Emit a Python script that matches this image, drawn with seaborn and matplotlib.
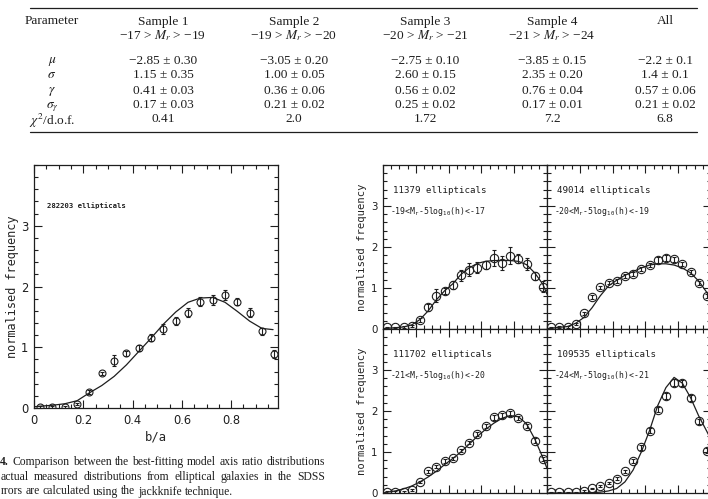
import matplotlib
matplotlib.use("Agg")
import matplotlib.pyplot as plt
import seaborn as sns
from matplotlib.ticker import MultipleLocator
from matplotlib.lines import Line2D

# ---------------- data ----------------
bin_centres = [0.025, 0.075, 0.125, 0.175, 0.225, 0.275, 0.325, 0.375, 0.425, 0.475,
               0.525, 0.575, 0.625, 0.675, 0.725, 0.775, 0.825, 0.875, 0.925, 0.975]

# all ellipticals (left panel)
all_freq = [0.01, 0.02, 0.02, 0.07, 0.26, 0.57, 0.78, 0.90, 0.99, 1.16,
            1.30, 1.43, 1.57, 1.75, 1.78, 1.86, 1.75, 1.57, 1.26, 0.89]
all_err = [0.02, 0.02, 0.02, 0.02, 0.03, 0.03, 0.09, 0.04, 0.05, 0.05,
           0.08, 0.06, 0.07, 0.07, 0.08, 0.08, 0.06, 0.07, 0.06, 0.07]
model_x_all = [0.0, 0.025, 0.075, 0.125, 0.175, 0.225, 0.275, 0.325, 0.375, 0.425, 0.475,
               0.525, 0.575, 0.625, 0.675, 0.725, 0.775, 0.825, 0.875, 0.925, 0.97]
model_all = [0.02, 0.03, 0.045, 0.07, 0.12, 0.25, 0.37, 0.52, 0.71, 0.93, 1.15,
             1.38, 1.58, 1.74, 1.81, 1.82, 1.74, 1.59, 1.43, 1.31, 1.29]

model_x = [0.0, 0.025, 0.075, 0.125, 0.175, 0.225, 0.275, 0.325, 0.375, 0.425, 0.475,
           0.525, 0.575, 0.625, 0.675, 0.725, 0.775, 0.825, 0.875, 0.925, 0.975, 1.0]

# sample 1: -19 < M < -17
s1_freq = [0.04, 0.04, 0.05, 0.07, 0.23, 0.53, 0.81, 0.93, 1.07, 1.31,
           1.45, 1.50, 1.56, 1.73, 1.61, 1.79, 1.71, 1.59, 1.30, 1.03]
s1_err = [0.02, 0.02, 0.02, 0.03, 0.05, 0.08, 0.16, 0.08, 0.10, 0.14,
          0.16, 0.13, 0.09, 0.20, 0.17, 0.20, 0.11, 0.14, 0.10, 0.13]
s1_model = [0.01, 0.02, 0.03, 0.05, 0.10, 0.23, 0.44, 0.71, 0.93, 1.10, 1.33,
            1.49, 1.60, 1.65, 1.67, 1.67, 1.67, 1.65, 1.57, 1.37, 1.09, 0.85]

# sample 2: -20 < M < -19
s2_freq = [0.04, 0.05, 0.05, 0.12, 0.38, 0.77, 1.02, 1.13, 1.17, 1.29,
           1.35, 1.47, 1.56, 1.69, 1.74, 1.70, 1.59, 1.40, 1.13, 0.80]
s2_err = [0.02, 0.02, 0.02, 0.03, 0.04, 0.05, 0.04, 0.04, 0.04, 0.05,
          0.05, 0.05, 0.05, 0.07, 0.07, 0.06, 0.05, 0.05, 0.05, 0.05]
s2_model = [0.01, 0.02, 0.04, 0.06, 0.14, 0.28, 0.52, 0.81, 1.05, 1.19, 1.31,
            1.40, 1.49, 1.56, 1.59, 1.59, 1.56, 1.49, 1.37, 1.17, 0.89, 0.70]

# sample 3: -21 < M < -20
s3_freq = [0.02, 0.02, 0.03, 0.07, 0.27, 0.53, 0.64, 0.78, 0.85, 1.04,
           1.23, 1.44, 1.64, 1.85, 1.90, 1.95, 1.83, 1.63, 1.28, 0.83]
s3_err = [0.02, 0.02, 0.02, 0.03, 0.03, 0.04, 0.04, 0.04, 0.04, 0.04,
          0.04, 0.04, 0.05, 0.06, 0.06, 0.06, 0.05, 0.05, 0.05, 0.05]
s3_model = [0.0, 0.02, 0.05, 0.10, 0.17, 0.27, 0.39, 0.53, 0.69, 0.84, 1.00,
            1.19, 1.38, 1.55, 1.70, 1.82, 1.89, 1.86, 1.69, 1.32, 0.86, 0.60]

# sample 4: -24 < M < -21
s4_freq = [0.02, 0.02, 0.02, 0.02, 0.05, 0.11, 0.17, 0.25, 0.35, 0.53,
           0.77, 1.11, 1.52, 2.03, 2.36, 2.69, 2.68, 2.31, 1.75, 1.03]
s4_err = [0.01, 0.01, 0.01, 0.01, 0.02, 0.02, 0.02, 0.03, 0.03, 0.04,
          0.05, 0.05, 0.06, 0.06, 0.07, 0.08, 0.08, 0.07, 0.06, 0.06]
s4_model = [0.0, 0.0, 0.0, 0.0, 0.0, 0.0, 0.01, 0.02, 0.05, 0.11, 0.27,
            0.56, 1.00, 1.52, 2.13, 2.57, 2.82, 2.68, 2.33, 1.88, 1.50, 1.30]

panel_counts = ["11379 ellipticals", "49014 ellipticals",
                "111702 ellipticals", "109535 ellipticals"]
panel_ranges = [("-19", "-17"), ("-20", "-19"), ("-21", "-20"), ("-24", "-21")]

x_ticks = [0, 0.2, 0.4, 0.6, 0.8]
x_tick_labels = ["0", "0.2", "0.4", "0.6", "0.8"]
y_ticks = [0, 1, 2, 3]
y_tick_labels = ["0", "1", "2", "3"]

# table
table_headers = ["Sample 1", "Sample 2", "Sample 3", "Sample 4", "All"]
table_sub = ["−17 > $M_r$ > −19", "−19 > $M_r$ > −20", "−20 > $M_r$ > −21",
             "−21 > $M_r$ > −24", ""]
table_params = [r"$\mu$", r"$\sigma$", r"$\gamma$", r"$\sigma_\gamma$", r"$\chi^2$/d.o.f."]
table_values = [
    ["−2.85 ± 0.30", "−3.05 ± 0.20", "−2.75 ± 0.10", "−3.85 ± 0.15", "−2.2 ± 0.1"],
    ["1.15 ± 0.35", "1.00 ± 0.05", "2.60 ± 0.15", "2.35 ± 0.20", "1.4 ± 0.1"],
    ["0.41 ± 0.03", "0.36 ± 0.06", "0.56 ± 0.02", "0.76 ± 0.04", "0.57 ± 0.06"],
    ["0.17 ± 0.03", "0.21 ± 0.02", "0.25 ± 0.02", "0.17 ± 0.01", "0.21 ± 0.02"],
    ["0.41", "2.0", "1.72", "7.2", "6.8"],
]

caption_lines = [
    "4.  Comparison between the best-fitting model axis ratio distributions",
    "actual measured distributions from elliptical galaxies in the SDSS",
    "rrors are calculated using the jackknife technique.",
]

# ---------------- style ----------------
sns.set_theme(style="ticks")
plt.rcParams["font.family"] = ["DejaVu Sans"]
INK = "#1e1e1e"
plt.rcParams.update({
    "axes.edgecolor": INK, "axes.linewidth": 0.9,
    "xtick.color": INK, "ytick.color": INK,
    "xtick.direction": "in", "ytick.direction": "in",
    "text.color": INK,
})

W, H = 708, 499
fig = plt.figure(figsize=(W / 100, H / 100), dpi=100)


def box(x0, y0, x1, y1):
    return [x0 / W, 1 - y1 / H, (x1 - x0) / W, (y1 - y0) / H]


def fx(x):
    return x / W


def fy(y):
    return 1 - y / H


def style_axes(ax, xmax, labelsize, show_xlabels=True):
    ax.set_xlim(0, xmax)
    ax.set_ylim(0, 4)
    ax.set_xticks(x_ticks, labels=x_tick_labels if show_xlabels else [""] * len(x_ticks))
    ax.set_yticks(y_ticks, labels=y_tick_labels)
    ax.xaxis.set_minor_locator(MultipleLocator(0.05))
    ax.yaxis.set_minor_locator(MultipleLocator(0.2))
    ax.tick_params(which="both", direction="in", top=True, right=True, width=0.8)
    ax.tick_params(which="major", length=5.5, labelsize=labelsize, pad=4)
    ax.tick_params(which="minor", length=2.6)
    for sp in ax.spines.values():
        sp.set_linewidth(0.9)
        sp.set_color(INK)


def draw_panel(ax, xm, ym, y, e, ms):
    sns.lineplot(x=xm, y=ym, ax=ax, color=INK, lw=0.9, estimator=None, sort=False)
    ax.errorbar(bin_centres, y, yerr=e, fmt="o", ms=ms, mfc="none", mec=INK, mew=0.8,
                ecolor=INK, elinewidth=0.8, capsize=1.6, capthick=0.8)


# ---------------- left panel ----------------
axL = fig.add_axes(box(34, 165, 278, 408))
draw_panel(axL, model_x_all, model_all, all_freq, all_err, 5)
style_axes(axL, 0.99, 8.3)
axL.set_xlabel("b/a", family="DejaVu Sans Mono", fontsize=8.8)
axL.xaxis.set_label_coords(0.5, -0.118)
axL.xaxis.label.set_va("center")
axL.set_ylabel("normalised frequency", family="DejaVu Sans Mono", fontsize=8.6)
axL.yaxis.set_label_coords(-0.09, 0.5)
axL.yaxis.label.set_va("center")
axL.text(0.053, 3.34, "282203 ellipticals", family="DejaVu Sans Mono", fontsize=5.2,
         weight="bold", va="center", ha="left")

# ---------------- right grid ----------------
grid = [
    (383, 165, 547, 329, s1_model, s1_freq, s1_err),
    (547, 165, 711, 329, s2_model, s2_freq, s2_err),
    (383, 329, 547, 493, s3_model, s3_freq, s3_err),
    (547, 329, 711, 493, s4_model, s4_freq, s4_err),
]
for i, (x0, y0, x1, y1, ym, yv, ev) in enumerate(grid):
    ax = fig.add_axes(box(x0, y0, x1, y1))
    draw_panel(ax, model_x, ym, yv, ev, 6)
    style_axes(ax, 1.0, 7.4, show_xlabels=False)
    if i % 2 == 1:
        ax.tick_params(labelleft=False)
    else:
        ax.set_ylabel("normalised frequency", family="DejaVu Sans Mono", fontsize=7.6)
        ax.yaxis.set_label_coords(-0.128, 0.5)
        ax.yaxis.label.set_va("center")
    ax.text(0.06, 3.38, panel_counts[i], family="DejaVu Sans Mono", fontsize=6.6,
            va="center", ha="left")
    lo, hi = panel_ranges[i]
    ax.text(0.04, 2.86, lo + "<M$_\\mathtt{r}$-5log$_\\mathtt{10}$(h)<" + hi,
            family="DejaVu Sans Mono", fontsize=5.9, va="center", ha="left")

# ---------------- table ----------------
SERIF = "Liberation Serif"
TFS = 9.6
col_x = [163, 294, 425, 552, 665]
par_x = 52
head_y = [20, 34]
row_y = [59, 74, 89, 104, 118]

fig.add_artist(Line2D([fx(30), fx(697)], [fy(8), fy(8)], color=INK, lw=0.9))
fig.add_artist(Line2D([fx(30), fx(697)], [fy(132), fy(132)], color=INK, lw=0.9))

fig.text(fx(par_x), fy(head_y[0]), "Parameter", family=SERIF, fontsize=TFS,
         ha="center", va="center_baseline")
for cx, h, s in zip(col_x, table_headers, table_sub):
    fig.text(fx(cx), fy(head_y[0]), h, family=SERIF, fontsize=TFS, ha="center",
             va="center_baseline")
    if s:
        fig.text(fx(cx), fy(head_y[1]), s, fontsize=TFS, ha="center",
                 va="center_baseline", math_fontfamily="stix", family=SERIF)
for ry, p, vals in zip(row_y, table_params, table_values):
    fig.text(fx(par_x), fy(ry), p, family=SERIF, fontsize=TFS, ha="center",
             va="center_baseline", math_fontfamily="stix")
    for cx, v in zip(col_x, vals):
        fig.text(fx(cx), fy(ry), v, family=SERIF, fontsize=TFS, ha="center",
                 va="center_baseline")

# ---------------- caption (justified) ----------------
renderer = fig.canvas.get_renderer()
CFS = 8.4


def caption_line(text, x0, x1, base_y, justify=True, bold_first=False):
    words = text.split()
    objs = []
    for k, w in enumerate(words):
        wt = "bold" if (bold_first and k == 0) else "normal"
        objs.append(fig.text(0, 0, w, family=SERIF, fontsize=CFS, weight=wt,
                             ha="left", va="baseline"))
    widths = [o.get_window_extent(renderer).width for o in objs]
    if justify and len(objs) > 1:
        gap = (x1 - x0 - sum(widths)) / (len(objs) - 1)
    else:
        gap = CFS * 0.25 * 100 / 72
    pos = x0
    for o, wd in zip(objs, widths):
        o.set_position((fx(pos), fy(base_y)))
        pos += wd + gap


caption_line(caption_lines[0], 0.0, 325, 465, justify=True, bold_first=True)
caption_line(caption_lines[1], 0.5, 325, 480, justify=True)
caption_line(caption_lines[2], 0.5, 325, 494.5, justify=False)

fig.savefig("out.png", dpi=100)
